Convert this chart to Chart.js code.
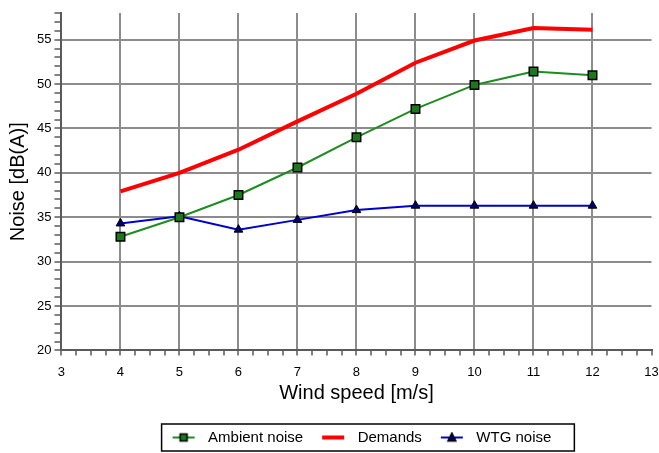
<!DOCTYPE html>
<html>
<head>
<meta charset="utf-8">
<script src="https://cdn.jsdelivr.net/npm/chart.js@4/dist/chart.umd.min.js"></script>
<style>
  body { margin: 0; background: #fff; }
  #wrap { width: 659px; height: 453px; }
</style>
</head>
<body>
<div id="wrap"><canvas id="noiseChart" width="659" height="453"></canvas></div>
<script>
const windSpeed = [4, 5, 6, 7, 8, 9, 10, 11, 12];
const ambientNoise = [32.8, 35.0, 37.5, 40.6, 44.0, 47.2, 49.9, 51.4, 51.0];
const demands = [37.9, 40.0, 42.6, 45.8, 48.9, 52.4, 54.9, 56.3, 56.1];
const wtgNoise = [34.3, 35.1, 33.6, 34.7, 35.8, 36.3, 36.3, 36.3, 36.3];

const fontFamily = "'Liberation Sans', Arial, sans-serif";
const gridGrey = '#8c8c8c';
const axisGrey = '#5a5a5a';

function toPoints(ys) {
  return windSpeed.map((x, i) => ({ x: x, y: ys[i] }));
}

// little legend pictures: line with the marker in the middle
function legendIcon(color, width, marker, fill) {
  const c = document.createElement('canvas');
  c.width = 39; c.height = 12;
  const g = c.getContext('2d');
  g.strokeStyle = color;
  g.lineWidth = width;
  g.beginPath(); g.moveTo(11, 6); g.lineTo(33, 6); g.stroke();
  g.fillStyle = fill;
  g.strokeStyle = '#000';
  g.lineWidth = 1.5;
  if (marker === 'rect') {
    g.fillRect(18.5, 2.5, 7, 7); g.strokeRect(18.5, 2.5, 7, 7);
  } else if (marker === 'triangle') {
    g.beginPath(); g.moveTo(22, 1.5); g.lineTo(26, 9.5); g.lineTo(18, 9.5); g.closePath();
    g.fill(); g.stroke();
  }
  return c;
}

const icons = [
  legendIcon('#1e8c1e', 2, 'rect', '#1a7a1a'),
  legendIcon('#ff0000', 4, null, '#f00'),
  legendIcon('#0000cc', 2, 'triangle', '#000070')
];

const legendBorder = {
  id: 'legendBorder',
  afterDraw(chart) {
    const lg = chart.legend;
    if (!lg || !lg.legendHitBoxes.length) return;
    const boxes = lg.legendHitBoxes;
    const first = boxes[0], last = boxes[boxes.length - 1];
    const cy = first.top + first.height / 2;
    const ctx = chart.ctx;
    ctx.save();
    ctx.strokeStyle = '#000';
    ctx.lineWidth = 1.5;
    ctx.strokeRect(first.left, cy - 13.5, last.left + last.width + 23 - first.left, 27);
    ctx.restore();
  }
};

const ctx = document.getElementById('noiseChart').getContext('2d');
const chart = new Chart(ctx, {
  type: 'line',
  data: {
    datasets: [{
      label: 'Ambient noise',
      data: toPoints(ambientNoise),
      borderColor: '#1e8c1e',
      borderWidth: 2,
      pointStyle: 'rect',
      pointRadius: 6,
      pointBackgroundColor: '#1a7a1a',
      pointBorderColor: '#000',
      pointBorderWidth: 1.5
    }, {
      label: 'Demands',
      data: toPoints(demands),
      borderColor: '#ff0000',
      borderWidth: 4,
      pointRadius: 0
    }, {
      label: 'WTG noise',
      data: toPoints(wtgNoise),
      borderColor: '#0000cc',
      borderWidth: 2,
      pointStyle: 'triangle',
      pointRadius: 5,
      pointBackgroundColor: '#000070',
      pointBorderColor: '#000',
      pointBorderWidth: 1
    }]
  },
  options: {
    responsive: false,
    animation: false,
    layout: { padding: { top: 13, right: 0, left: 6, bottom: -2 } },
    plugins: {
      tooltip: { enabled: false },
      legend: {
        position: 'bottom',
        fullSize: false,
        labels: {
          usePointStyle: true,
          pointStyleWidth: 39,
          padding: 8,
          color: '#000',
          font: { family: fontFamily, size: 15 },
          generateLabels(chart) {
            const items = Chart.defaults.plugins.legend.labels.generateLabels(chart);
            items.forEach((it, i) => { it.pointStyle = icons[i]; });
            return items;
          }
        }
      }
    },
    scales: {
      x: {
        type: 'linear',
        min: 3,
        max: 13,
        afterFit: s => { s.paddingRight = 6; },
        border: { color: axisGrey, width: 2 },
        grid: {
          color: c => (Number.isInteger(c.tick.value) && c.tick.value > 3 && c.tick.value < 13) ? gridGrey : 'rgba(0,0,0,0)',
          lineWidth: 2,
          tickColor: axisGrey,
          tickWidth: 1.5,
          tickLength: 5
        },
        ticks: {
          stepSize: 0.25,
          autoSkip: false,
          maxRotation: 0,
          padding: 9,
          color: '#000',
          font: { family: fontFamily, size: 13 },
          callback: v => Number.isInteger(v) ? v : ''
        },
        title: {
          display: true,
          text: 'Wind speed [m/s]',
          color: '#000',
          font: { family: fontFamily, size: 20, lineHeight: 1.0 },
          padding: { top: -6, bottom: 19 }
        }
      },
      y: {
        min: 20,
        max: 58,
        border: { color: axisGrey, width: 2 },
        grid: {
          color: c => (c.tick.value % 5 === 0 && c.tick.value > 20) ? gridGrey : 'rgba(0,0,0,0)',
          lineWidth: 2,
          tickColor: axisGrey,
          tickWidth: 1.5,
          tickLength: 7
        },
        ticks: {
          stepSize: 1,
          autoSkip: false,
          padding: 3,
          color: '#000',
          font: { family: fontFamily, size: 13 },
          callback: v => v % 5 === 0 ? v : ''
        },
        title: {
          display: true,
          text: 'Noise [dB(A)]',
          color: '#000',
          font: { family: fontFamily, size: 20 },
          padding: { top: 0, bottom: 4 }
        }
      }
    }
  },
  plugins: [legendBorder]
});
</script>
</body>
</html>
